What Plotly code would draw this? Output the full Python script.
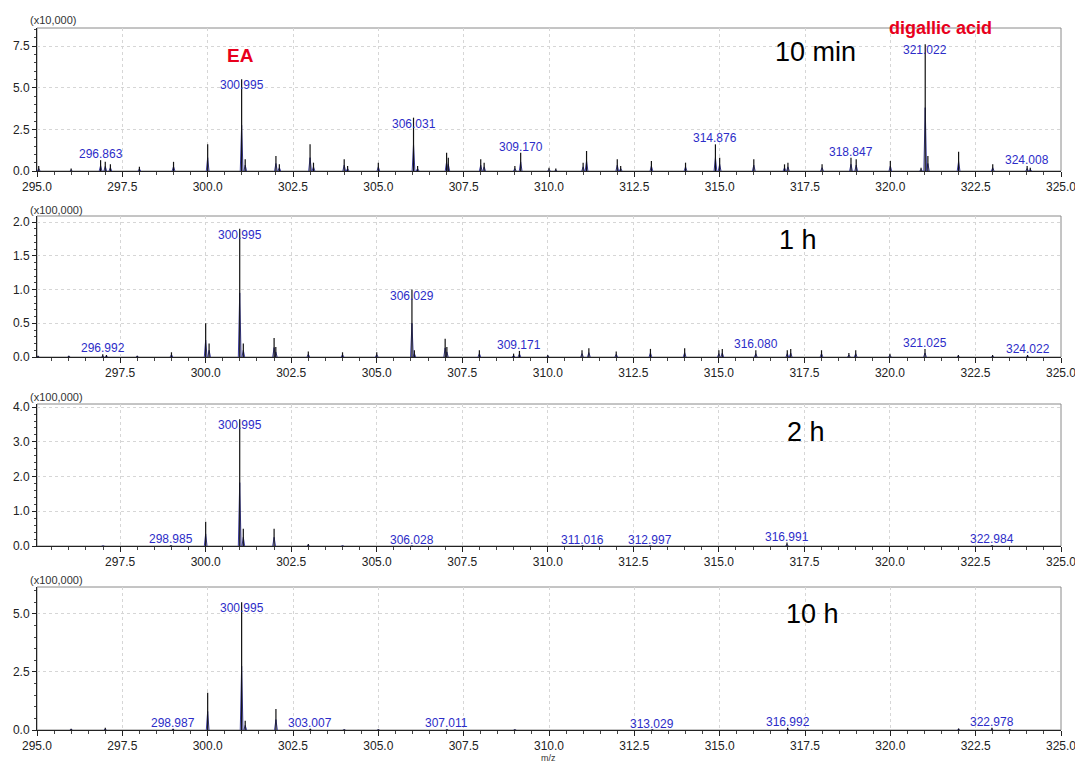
import plotly.graph_objects as go
from plotly.subplots import make_subplots

# ---------------- data ----------------
# Panel 1: 10 min (x10,000)
mz_10min = [295.05, 296.0, 296.863, 297.0, 297.15, 298.0, 299.0, 300.0, 300.995, 301.1, 302.0, 302.1,
            303.0, 303.1, 304.0, 304.1, 305.0, 306.031, 306.15, 307.0, 307.05, 308.0, 308.1, 309.0,
            309.170, 310.0, 310.2, 311.0, 311.1, 312.0, 312.1, 313.0, 314.0, 314.876, 315.0, 316.0,
            316.9, 317.0, 318.0, 318.847, 319.0, 320.0, 320.9, 321.022, 321.1, 322.0, 323.0, 324.008, 324.1]
int_10min = [0.3, 0.15, 0.65, 0.55, 0.4, 0.25, 0.55, 1.6, 5.5, 0.7, 0.9, 0.4,
             1.6, 0.5, 0.7, 0.3, 0.5, 3.2, 0.3, 1.1, 0.8, 0.7, 0.5, 0.3,
             1.1, 0.2, 0.15, 0.5, 1.2, 0.7, 0.3, 0.6, 0.5, 1.6, 0.8, 0.7,
             0.4, 0.5, 0.4, 0.8, 0.7, 0.6, 0.2, 7.6, 0.9, 1.15, 0.4, 0.3, 0.2]
lab_10min = [296.863, 300.995, 306.031, 309.170, 314.876, 318.847, 321.022, 324.008]

# Panel 2: 1 h (x100,000)
mz_1h = [295.1, 296.0, 296.992, 297.1, 298.0, 299.0, 300.0, 300.1, 300.995, 301.1, 302.0, 302.05,
         303.0, 304.0, 305.0, 306.029, 306.1, 307.0, 307.05, 308.0, 309.0, 309.171, 310.0, 311.0,
         311.2, 312.0, 313.0, 314.0, 315.0, 315.1, 316.080, 317.0, 317.1, 318.0, 318.8, 319.0,
         320.0, 321.025, 322.0, 323.0, 324.022]
int_1h = [0.02, 0.02, 0.04, 0.03, 0.02, 0.07, 0.5, 0.2, 1.9, 0.2, 0.28, 0.15,
          0.08, 0.07, 0.07, 1.0, 0.1, 0.27, 0.15, 0.1, 0.05, 0.09, 0.03, 0.1,
          0.13, 0.08, 0.12, 0.13, 0.1, 0.12, 0.1, 0.1, 0.12, 0.1, 0.06, 0.1,
          0.05, 0.12, 0.03, 0.03, 0.03]
lab_1h = [296.992, 300.995, 306.029, 309.171, 316.080, 321.025, 324.022]

# Panel 3: 2 h (x100,000)
mz_2h = [297.0, 298.985, 300.0, 300.995, 301.1, 302.0, 303.0, 304.0, 306.028, 311.016, 312.997, 316.991, 322.984]
int_2h = [0.01, 0.02, 0.7, 3.65, 0.5, 0.5, 0.06, 0.01, 0.01, 0.01, 0.01, 0.1, 0.02]
lab_2h = [298.985, 300.995, 306.028, 311.016, 312.997, 316.991, 322.984]

# Panel 4: 10 h (x100,000)
mz_10h = [296.0, 297.0, 298.987, 300.0, 300.995, 301.1, 302.0, 303.007, 304.0, 305.0, 307.011, 309.0,
          313.029, 316.992, 322.0, 322.978, 323.5]
int_10h = [0.05, 0.1, 0.05, 1.6, 5.5, 0.4, 0.9, 0.05, 0.03, 0.03, 0.03, 0.03,
           0.02, 0.1, 0.06, 0.1, 0.03]
lab_10h = [298.987, 300.995, 303.007, 307.011, 313.029, 316.992, 322.978]

panel_names = ["10 min", "1 h", "2 h", "10 h"]
multipliers = ["(x10,000)", "(x100,000)", "(x100,000)", "(x100,000)"]
x_tick_vals = [295.0, 297.5, 300.0, 302.5, 305.0, 307.5, 310.0, 312.5, 315.0, 317.5, 320.0, 322.5, 325.0]

panels = [
    dict(mz=mz_10min, it=int_10min, lab=lab_10min, yr=[0, 8.58], dt=2.5, mdt=0.5, xr=[295.0, 325.0]),
    dict(mz=mz_1h, it=int_1h, lab=lab_1h, yr=[0, 2.09], dt=0.5, mdt=0.1, xr=[295.07, 325.0]),
    dict(mz=mz_2h, it=int_2h, lab=lab_2h, yr=[0, 4.09], dt=1.0, mdt=0.2, xr=[295.07, 325.0]),
    dict(mz=mz_10h, it=int_10h, lab=lab_10h, yr=[0, 6.16], dt=2.5, mdt=0.5, xr=[295.0, 325.0]),
]

# ---------------- layout geometry (page pixels) ----------------
OFF = 8                      # default page body margin
W, H = 1083 - OFF, 764 - OFF  # figure size so that figure + margin fills the window
px_top = [28, 216, 404, 587]
px_bot = [171, 357, 546, 730]
px_left, px_right = 37, 1061
label_pos = [(815, 52), (798, 240), (806, 432), (812, 614)]
mult_y = [20, 210, 397, 580]


def fx(px):
    return (px - OFF) / W


def fy(py):
    return 1 - (py - OFF) / H


FONT = "Liberation Sans, Arial, sans-serif"
BLUE = "#2c2cc8"
RED = "#e8001c"

fig = make_subplots(rows=4, cols=1)

for i, p in enumerate(panels):
    r = i + 1
    sfx = "" if r == 1 else str(r)
    # profile (blue) + centroid sticks (black)
    px_, py_ = [], []
    sx, sy = [], []
    for m, h in zip(p["mz"], p["it"]):
        px_ += [m - 0.04, m, m + 0.04, None]
        py_ += [0, h * 0.5, 0, None]
        sx += [m, m, None]
        sy += [0, h, None]
    fig.add_trace(go.Scatter(x=px_, y=py_, mode="lines", line=dict(color="#3a3a9a", width=1),
                             hoverinfo="skip", showlegend=False), row=r, col=1)
    fig.add_trace(go.Scatter(x=sx, y=sy, mode="lines", line=dict(color="#111111", width=1.2),
                             hoverinfo="skip", showlegend=False), row=r, col=1)

    dom_y = [fy(px_bot[i]), fy(px_top[i])]
    dom_x = [fx(px_left), fx(px_right)]
    fig.update_xaxes(row=r, col=1, domain=dom_x, range=p["xr"], tickvals=x_tick_vals,
                     automargin=False,
                     tickformat=".1f", ticks="outside", ticklen=5, tickcolor="#222",
                     showline=True, linecolor="#222", linewidth=1,
                     showgrid=True, gridcolor="#d6d6d6", griddash="dot", gridwidth=1,
                     zeroline=False, tickfont=dict(family=FONT, size=12, color="#222"),
                     minor=dict(dtick=0.5, tick0=295, ticks="outside", ticklen=3, tickcolor="#444",
                                showgrid=False))
    fig.update_yaxes(row=r, col=1, domain=dom_y, range=p["yr"], dtick=p["dt"], tick0=0,
                     automargin=False,
                     tickformat=".1f", ticks="outside", ticklen=4, tickcolor="#222",
                     showline=True, linecolor="#222", linewidth=1,
                     showgrid=True, gridcolor="#d6d6d6", griddash="dot", gridwidth=1,
                     zeroline=False, tickfont=dict(family=FONT, size=12, color="#222"),
                     minor=dict(dtick=p["mdt"], tick0=0, ticks="outside", ticklen=2, tickcolor="#444",
                                showgrid=False))
    # grey frame
    fig.add_shape(type="rect", xref=f"x{sfx} domain", yref=f"y{sfx} domain", x0=0, x1=1, y0=0, y1=1,
                  line=dict(color="#8a8a8a", width=1), layer="below")

    # peak labels
    ymax = p["yr"][1]
    for m in p["lab"]:
        h = p["it"][p["mz"].index(m)]
        fig.add_annotation(x=m, y=h, xref=f"x{sfx}", yref=f"y{sfx}", text=f"{m:.3f}",
                           showarrow=False, xanchor="center", yanchor="middle",
                           yshift=6 if h < 0.3 * ymax else -6,
                           font=dict(family=FONT, size=12, color=BLUE))

    # multiplier text
    fig.add_annotation(x=fx(28), y=fy(mult_y[i]), xref="paper", yref="paper",
                       text=multipliers[i], showarrow=False, xanchor="left", yanchor="middle",
                       font=dict(family=FONT, size=11, color="#333"))
    # time label
    lx, ly = label_pos[i]
    fig.add_annotation(x=fx(lx), y=fy(ly), xref="paper", yref="paper", text=panel_names[i],
                       showarrow=False, xanchor="center", yanchor="middle",
                       font=dict(family=FONT, size=27, color="#000"))

# compound names
fig.add_annotation(x=fx(240), y=fy(55), xref="paper", yref="paper", text="<b>EA</b>",
                   showarrow=False, xanchor="center", yanchor="middle",
                   font=dict(family=FONT, size=19, color=RED))
fig.add_annotation(x=fx(940), y=fy(28), xref="paper", yref="paper", text="<b>digallic acid</b>",
                   showarrow=False, xanchor="center", yanchor="middle",
                   font=dict(family=FONT, size=18, color=RED))
fig.add_annotation(x=fx(548), y=0, xref="paper", yref="paper", text="m/z",
                   showarrow=False, xanchor="center", yanchor="bottom", borderpad=0,
                   font=dict(family=FONT, size=9, color="#333"))

fig.update_layout(width=W, height=H, margin=dict(l=0, r=0, t=0, b=0, autoexpand=False),
                  paper_bgcolor="white", plot_bgcolor="white", showlegend=False)

fig.write_html("out.html")
